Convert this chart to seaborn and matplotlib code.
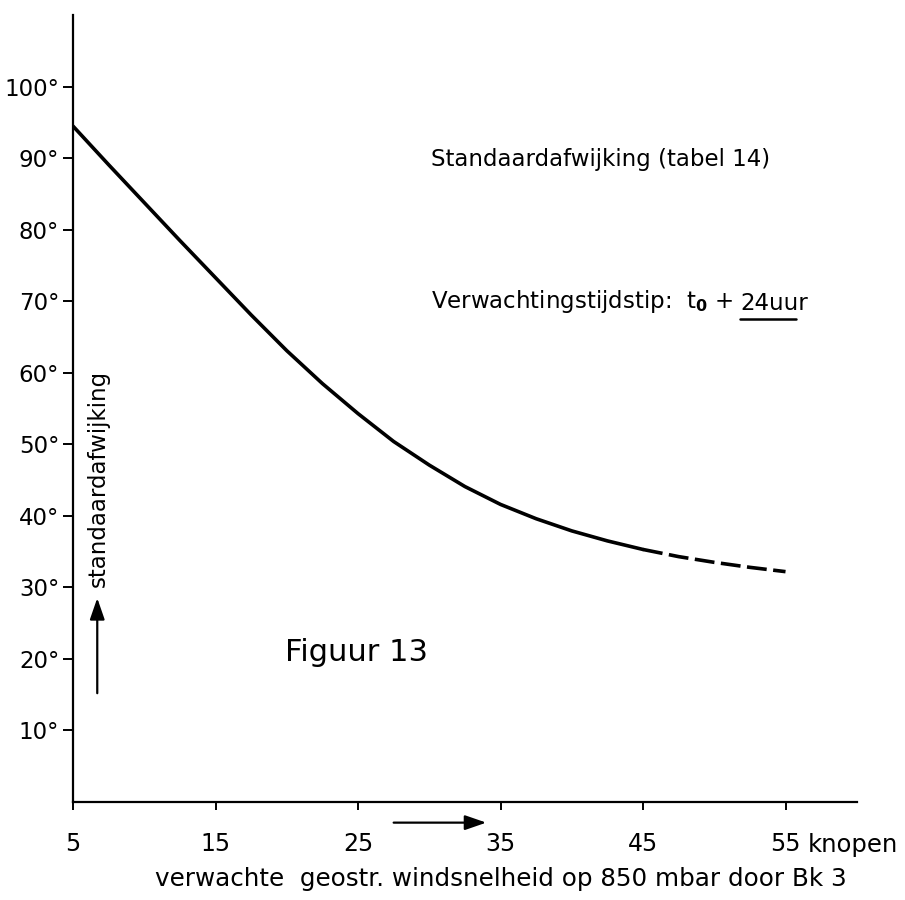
import matplotlib
matplotlib.use("Agg")
import matplotlib.pyplot as plt
import seaborn as sns
import pandas as pd

# Wind speed (knots) and standard deviation (degrees) of the forecast
knots_solid = [5, 7.5, 10, 12.5, 15, 17.5, 20, 22.5, 25, 27.5, 30, 32.5, 35, 37.5, 40, 42.5, 45]
stdev_solid = [94.5, 89.1, 83.8, 78.5, 73.3, 68.1, 63.1, 58.5, 54.3, 50.4, 47.1, 44.1, 41.6, 39.6, 37.9, 36.5, 35.3]
knots_dashed = [45, 47.5, 50, 52.5, 55]
stdev_dashed = [35.3, 34.3, 33.5, 32.8, 32.2]

x_ticks = [5, 15, 25, 35, 45, 55]
x_ticklabels = ["5", "15", "25", "35", "45", "55"]
y_ticks = [10, 20, 30, 40, 50, 60, 70, 80, 90, 100]
y_ticklabels = [f"{v}°" for v in y_ticks]

sns.set_style("ticks")
plt.rcParams["font.family"] = ["DejaVu Sans"]
plt.rcParams["text.color"] = "black"
plt.rcParams["axes.labelcolor"] = "black"

fig = plt.figure(figsize=(9.05, 9.0), dpi=100)
ax = fig.add_axes([0.0807, 0.109, 0.866, 0.874])

solid = pd.DataFrame({"knopen": knots_solid, "afwijking": stdev_solid})
dashed = pd.DataFrame({"knopen": knots_dashed, "afwijking": stdev_dashed})
sns.lineplot(data=solid, x="knopen", y="afwijking", ax=ax, color="black", lw=2.6,
             sort=False, estimator=None, solid_joinstyle="round")
sns.lineplot(data=dashed, x="knopen", y="afwijking", ax=ax, color="black", lw=2.6,
             sort=False, estimator=None, linestyle=(0, (5.5, 1.8)))

ax.set_xlim(5, 60)
ax.set_ylim(0, 110)
sns.despine(ax=ax)
for side in ("left", "bottom"):
    ax.spines[side].set_linewidth(1.6)
    ax.spines[side].set_color("black")

ax.set_xticks(x_ticks)
ax.set_xticklabels(x_ticklabels)
ax.set_yticks(y_ticks)
ax.set_yticklabels(y_ticklabels)
ax.tick_params(axis="x", direction="out", length=6, width=1.4, pad=16,
               labelsize=17, colors="black")
ax.tick_params(axis="y", direction="out", length=7, width=1.4, pad=3,
               labelsize=16.5, colors="black")

ax.set_xlabel("verwachte  geostr. windsnelheid op 850 mbar door Bk 3", fontsize=17.7)
ax.xaxis.set_label_coords(0.546, -0.083)
ax.set_ylabel("")

# unit after the last tick label
ax.annotate("knopen", xy=(55, 0), xycoords=("data", "axes fraction"),
            xytext=(16, -22.5), textcoords="offset points",
            ha="left", va="top", fontsize=17.5)

# text annotations
ax.text(30.1, 89.8, "Standaardafwijking (tabel 14)", fontsize=16.5,
        ha="left", va="center")
t1 = ax.text(30.1, 69.0, "Verwachtingstijdstip:  t$_{\\mathbf{0}}$ +", fontsize=16.5,
             ha="left", va="baseline")
t2 = ax.annotate("24uur", xy=(1, 0), xycoords=t1, xytext=(5, 0),
                 textcoords="offset points", fontsize=16.5,
                 ha="left", va="bottom")
ax.text(19.9, 20.9, "Figuur 13", fontsize=22, ha="left", va="center")
ax.text(6.75, 45.2, "standaardafwijking", fontsize=16.5, rotation=90,
        ha="center", va="center")

# direction arrows
ax.annotate("", xy=(6.7, 28.5), xytext=(6.7, 15.2),
            arrowprops=dict(arrowstyle="-|>,head_length=1.3,head_width=0.45",
                            color="black", lw=1.6, shrinkA=0, shrinkB=0))
ax.annotate("", xy=(34.0, -2.9), xytext=(27.5, -2.9), annotation_clip=False,
            arrowprops=dict(arrowstyle="-|>,head_length=1.3,head_width=0.45",
                            color="black", lw=1.6, shrinkA=0, shrinkB=0))

# underline beneath "24uur"
fig.canvas.draw()
renderer = fig.canvas.get_renderer()
bb = t2.get_window_extent(renderer)
inv = fig.transFigure.inverted()
(x0, y0), (x1, _) = inv.transform([(bb.x0, bb.y0 - 4), (bb.x1 - 12, bb.y0 - 4)])
fig.add_artist(plt.Line2D([x0, x1], [y0, y0], color="black", lw=1.8,
                          transform=fig.transFigure))

fig.savefig("out.png", dpi=100, facecolor="white")
